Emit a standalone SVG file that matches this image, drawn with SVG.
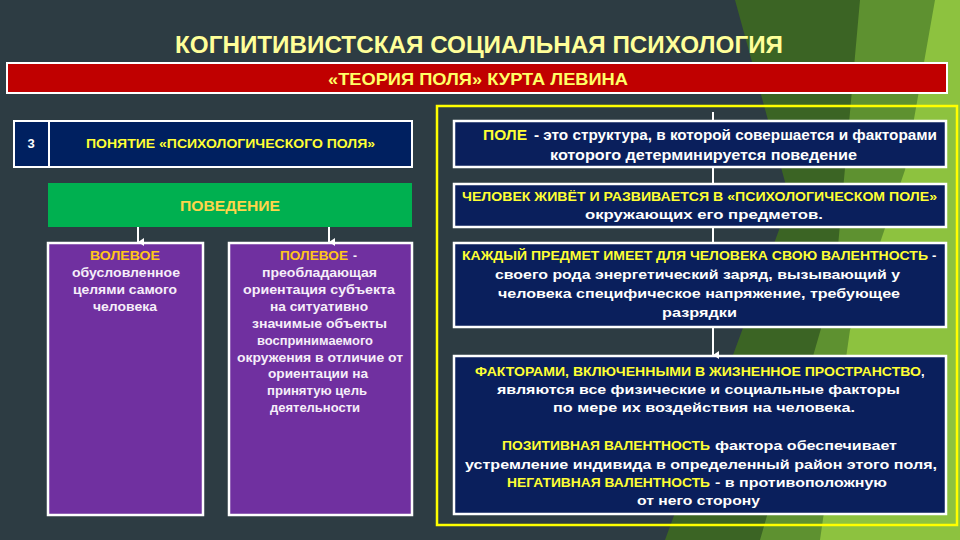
<svg xmlns="http://www.w3.org/2000/svg" width="960" height="540" viewBox="0 0 960 540">
<defs>
<style>
text{font-family:"Liberation Sans",Arial,sans-serif;font-weight:bold}
.y{fill:#ffff33}
.w{fill:#ffffff}
.p{fill:#f6eef9}
.g{fill:#ffc61a}
.box{fill:#0a1f5c;stroke:#ffffff;stroke-width:2.5}
.pur{fill:#7030a0;stroke:#ffffff;stroke-width:2.5}
.con{stroke:#ffffff;stroke-width:2;fill:none}
</style>
<marker id="ah" markerWidth="8" markerHeight="8" refX="4" refY="7" orient="auto" markerUnits="userSpaceOnUse">
<path d="M0,1 L8,1 L4,7 Z" fill="#ffffff"/>
</marker>
</defs>
<rect width="960" height="540" fill="#2d3c43"/>
<g id="bg">
<polygon points="735,0 960,0 960,540 665,540 790,200" fill="#3b6424"/>
<polygon points="860,0 960,0 960,540 760,540 835,280" fill="#5e9130"/>
<polygon points="935,0 960,0 960,540 820,540 850,330 905,170" fill="#8dc23f"/>
</g>
<g id="title">
<text x="479" y="53" font-size="24" text-anchor="middle" textLength="608" lengthAdjust="spacingAndGlyphs" fill="#ffff99">КОГНИТИВИСТСКАЯ СОЦИАЛЬНАЯ ПСИХОЛОГИЯ</text>
</g>
<g id="banner">
<rect x="7" y="63" width="940" height="30" fill="#c00000" stroke="#ffffff" stroke-width="2"/>
<text x="478" y="85" font-size="17" text-anchor="middle" textLength="300" lengthAdjust="spacingAndGlyphs" fill="#ffff66">«ТЕОРИЯ ПОЛЯ» КУРТА ЛЕВИНА</text>
</g>
<rect id="frame" x="437" y="106" width="520" height="419" fill="none" stroke="#ffff00" stroke-width="2.5"/>
<g id="concept">
<rect x="14" y="121" width="398" height="46" fill="#002060" stroke="#ffffff" stroke-width="2"/>
<line x1="49" y1="121" x2="49" y2="167" stroke="#ffffff" stroke-width="2"/>
<text x="31" y="148" font-size="13" text-anchor="middle" class="w">3</text>
<text x="86" y="148" font-size="13" textLength="289" lengthAdjust="spacingAndGlyphs" class="y">ПОНЯТИЕ «ПСИХОЛОГИЧЕСКОГО ПОЛЯ»</text>
</g>
<g id="behavior">
<rect x="48" y="183" width="364" height="44" fill="#00b050"/>
<text x="180" y="211" font-size="15" textLength="100" lengthAdjust="spacingAndGlyphs" fill="#ffd54a">ПОВЕДЕНИЕ</text>
</g>
<g id="volevoe">
<rect x="48" y="243" width="155" height="272" class="pur"/>
<text x="90" y="260" font-size="12" textLength="70" lengthAdjust="spacingAndGlyphs" class="g">ВОЛЕВОЕ</text>
<text x="72" y="277" font-size="12" textLength="108" lengthAdjust="spacingAndGlyphs" class="p">обусловленное</text>
<text x="73" y="294" font-size="12" textLength="104" lengthAdjust="spacingAndGlyphs" class="p">целями самого</text>
<text x="93" y="311" font-size="12" textLength="64" lengthAdjust="spacingAndGlyphs" class="p">человека</text>
</g>
<g id="polevoe">
<rect x="229" y="243" width="183" height="272" class="pur"/>
<text x="280" y="260" font-size="12" textLength="68" lengthAdjust="spacingAndGlyphs" class="g">ПОЛЕВОЕ</text>
<text x="353" y="260" font-size="12" class="p">-</text>
<text x="262" y="277" font-size="12" textLength="115" lengthAdjust="spacingAndGlyphs" class="p">преобладающая</text>
<text x="243" y="294" font-size="12" textLength="152" lengthAdjust="spacingAndGlyphs" class="p">ориентация субъекта</text>
<text x="270" y="311" font-size="12" textLength="98" lengthAdjust="spacingAndGlyphs" class="p">на ситуативно</text>
<text x="252" y="328" font-size="12" textLength="135" lengthAdjust="spacingAndGlyphs" class="p">значимые объекты</text>
<text x="257" y="345" font-size="12" textLength="116" lengthAdjust="spacingAndGlyphs" class="p">воспринимаемого</text>
<text x="237" y="362" font-size="12" textLength="166" lengthAdjust="spacingAndGlyphs" class="p">окружения в отличие от</text>
<text x="268" y="378" font-size="12" textLength="100" lengthAdjust="spacingAndGlyphs" class="p">ориентации на</text>
<text x="267" y="395" font-size="12" textLength="100" lengthAdjust="spacingAndGlyphs" class="p">принятую цель</text>
<text x="270" y="412" font-size="12" textLength="90" lengthAdjust="spacingAndGlyphs" class="p">деятельности</text>
</g>
<g id="pole">
<rect x="454" y="121" width="492" height="46" class="box"/>
<text x="483" y="140" font-size="14" textLength="44" lengthAdjust="spacingAndGlyphs" class="y">ПОЛЕ</text>
<text x="534" y="140" font-size="14" style="font-weight:600" textLength="403" lengthAdjust="spacingAndGlyphs" class="w">- это структура, в которой совершается и факторами</text>
<text x="550" y="160" font-size="14" style="font-weight:600" textLength="307" lengthAdjust="spacingAndGlyphs" class="w">которого детерминируется поведение</text>
</g>
<g id="chelovek">
<rect x="454" y="184" width="492" height="43" class="box"/>
<text x="462" y="201" font-size="13" textLength="475" lengthAdjust="spacingAndGlyphs" class="y">ЧЕЛОВЕК ЖИВЁТ И РАЗВИВАЕТСЯ В «ПСИХОЛОГИЧЕСКОМ ПОЛЕ»</text>
<text x="585" y="219" font-size="13" textLength="238" lengthAdjust="spacingAndGlyphs" class="w">окружающих его предметов.</text>
</g>
<g id="valentnost">
<rect x="454" y="243" width="492" height="84" class="box"/>
<text x="462" y="260" font-size="13" textLength="466" lengthAdjust="spacingAndGlyphs" class="y">КАЖДЫЙ ПРЕДМЕТ ИМЕЕТ ДЛЯ ЧЕЛОВЕКА СВОЮ ВАЛЕНТНОСТЬ</text>
<text x="932" y="260" font-size="13" class="w">-</text>
<text x="495" y="279" font-size="13" textLength="405" lengthAdjust="spacingAndGlyphs" class="w">своего рода энергетический заряд, вызывающий у</text>
<text x="498" y="298" font-size="13" textLength="402" lengthAdjust="spacingAndGlyphs" class="w">человека специфическое напряжение, требующее</text>
<text x="662" y="317" font-size="13" textLength="75" lengthAdjust="spacingAndGlyphs" class="w">разрядки</text>
</g>
<g id="faktory">
<rect x="454" y="356" width="492" height="158" class="box"/>
<text x="475" y="376" font-size="13" textLength="446" lengthAdjust="spacingAndGlyphs" class="y">ФАКТОРАМИ, ВКЛЮЧЕННЫМИ В ЖИЗНЕННОЕ ПРОСТРАНСТВО</text>
<text x="921" y="376" font-size="13" class="w">,</text>
<text x="497" y="394" font-size="13" textLength="403" lengthAdjust="spacingAndGlyphs" class="w">являются все физические и социальные факторы</text>
<text x="553" y="412" font-size="13" textLength="302" lengthAdjust="spacingAndGlyphs" class="w">по мере их воздействия на человека.</text>
<text x="502" y="450" font-size="13" textLength="208" lengthAdjust="spacingAndGlyphs" class="y">ПОЗИТИВНАЯ ВАЛЕНТНОСТЬ</text>
<text x="715" y="450" font-size="13" textLength="182" lengthAdjust="spacingAndGlyphs" class="w">фактора обеспечивает</text>
<text x="465" y="469" font-size="13" textLength="472" lengthAdjust="spacingAndGlyphs" class="w">устремление индивида в определенный район этого поля,</text>
<text x="507" y="487" font-size="13" textLength="203" lengthAdjust="spacingAndGlyphs" class="y">НЕГАТИВНАЯ ВАЛЕНТНОСТЬ</text>
<text x="715" y="487" font-size="13" textLength="172" lengthAdjust="spacingAndGlyphs" class="w">- в противоположную</text>
<text x="637" y="505" font-size="13" textLength="123" lengthAdjust="spacingAndGlyphs" class="w">от него сторону</text>
</g>
<g id="connectors">
<line class="con" x1="138" y1="227" x2="138" y2="242" marker-end="url(#ah)"/>
<line class="con" x1="329" y1="227" x2="329" y2="242" marker-end="url(#ah)"/>
<line class="con" x1="713" y1="112" x2="713" y2="120"/>
<line class="con" x1="713" y1="167" x2="713" y2="184"/>
<line class="con" x1="713" y1="227" x2="713" y2="243"/>
<line class="con" x1="713" y1="327" x2="713" y2="355" marker-end="url(#ah)"/>
</g>
</svg>
